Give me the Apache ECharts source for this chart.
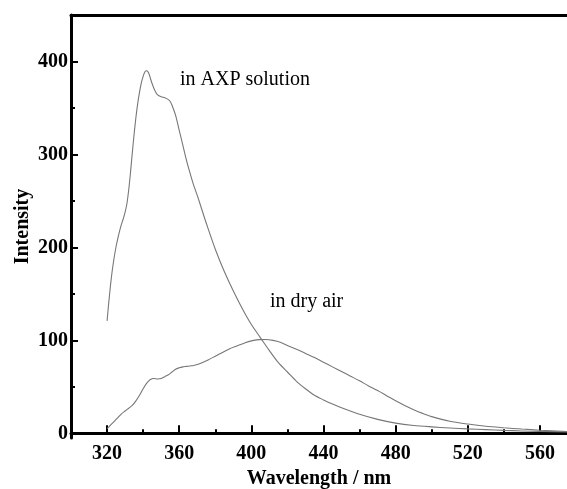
<!DOCTYPE html>
<html>
<head>
<meta charset="utf-8">
<script src="https://cdn.jsdelivr.net/npm/echarts@6/dist/echarts.min.js"></script>
<style>
html,body{margin:0;padding:0;background:#fff;}
#chart{width:567px;height:489px;}
</style>
</head>
<body>
<div id="chart"></div>
<script>
// Wavelength (nm) and intensity for "in AXP solution"
var axpWavelength = [320, 321, 322, 323, 324, 325, 326, 327, 328, 329, 330, 331, 332, 333, 334, 335, 336, 337, 338, 339, 340, 341, 342, 343, 344, 345, 346, 347, 348, 350, 352, 354, 355, 356, 358, 360, 362, 364, 366, 368, 370, 372, 375, 380, 385, 390, 395, 400, 405, 410, 415, 420, 425, 430, 435, 440, 445, 450, 460, 470, 480, 490, 500, 510, 520, 530, 540, 550, 560, 575];
var axpIntensity  = [121, 142, 161, 177, 190, 201, 210, 218, 225, 231, 238, 247, 262, 281, 302, 322, 340, 355, 367, 377, 384, 389, 390, 388, 382, 376, 371, 367, 364, 362, 361, 359, 357, 353, 342, 326, 310, 294, 280, 267, 256, 244, 226, 198, 174, 153, 134, 117, 103, 89, 76, 66, 56, 48, 41, 36, 31.5, 27.5, 20.5, 15, 11, 8.5, 7, 5.8, 4.8, 4, 3.2, 2.6, 2.1, 1.5];

// Wavelength (nm) and intensity for "in dry air"
var airWavelength = [320, 322, 324, 326, 328, 330, 332, 334, 336, 338, 340, 342, 344, 346, 348, 350, 352, 354, 356, 358, 360, 362, 364, 366, 368, 370, 372, 376, 380, 384, 388, 392, 396, 400, 404, 408, 412, 416, 420, 425, 430, 435, 440, 445, 450, 455, 460, 465, 470, 475, 480, 485, 490, 495, 500, 510, 520, 530, 540, 550, 560, 575];
var airIntensity  = [5, 9, 13, 17, 21, 24, 27, 30, 35, 41, 48, 54, 58, 59, 58.5, 59, 61, 63, 66, 69, 70.5, 71.5, 72, 72.5, 73, 74, 75.5, 79, 83, 87, 91, 94, 97, 99.5, 100.8, 101, 100, 98, 94.5, 90.5, 86, 81.5, 76.5, 71.5, 66.5, 61.5, 56.5, 51, 46, 40.5, 35, 30, 25.5, 21.5, 18, 13, 10, 7.6, 6, 4.6, 3.4, 2];

// Tick labels
var xLabels = [320, 360, 400, 440, 480, 520, 560];
var xMinorTicks = [340, 380, 420, 460, 500, 540];
var yLabels = [0, 100, 200, 300, 400];
var yMinorTicks = [50, 150, 250, 350];

// Annotations: [text, wavelength, intensity]
var annotations = [
  ['in AXP solution', 360.4, 380],
  ['in dry air', 410.3, 142]
];

function pairs(xs, ys){ return xs.map(function(x,i){ return [x, ys[i]]; }); }

var FONT = '"Liberation Serif", "Times New Roman", serif';
var chart = echarts.init(document.getElementById('chart'), null, {renderer:'canvas'});
var XMIN = 300, XMAX = 575, YMIN = -5, YMAX = 450;
var axisLine = {show:true, lineStyle:{color:'#000', width:3}};

chart.setOption({
  animation:false,
  backgroundColor:'#fff',
  grid:{left:71, top:15, right:0, bottom:51, containLabel:false, outerBoundsMode:'none'},
  xAxis:[
    {type:'value', position:'bottom', min:XMIN, max:XMAX,
     axisLine:axisLine,
     axisTick:{show:true, inside:true, length:8, lineStyle:{color:'#000', width:2}, customValues:xLabels},
     axisLabel:{show:true, customValues:xLabels, color:'#000', fontFamily:FONT, fontWeight:'bold', fontSize:20, margin:6},
     splitLine:{show:false},
     name:'Wavelength / nm', nameLocation:'middle', nameGap:30,
     nameTextStyle:{color:'#000', fontFamily:FONT, fontWeight:'bold', fontSize:20}},
    {type:'value', position:'bottom', min:XMIN, max:XMAX,
     axisLine:{show:false},
     axisTick:{show:true, inside:true, length:4, lineStyle:{color:'#000', width:2}, customValues:xMinorTicks},
     axisLabel:{show:false}, splitLine:{show:false}},
    {type:'value', position:'top', min:XMIN, max:XMAX,
     axisLine:axisLine, axisTick:{show:false}, axisLabel:{show:false}, splitLine:{show:false}}
  ],
  yAxis:[
    {type:'value', position:'left', min:YMIN, max:YMAX,
     axisLine:axisLine,
     axisTick:{show:true, inside:true, length:7, lineStyle:{color:'#000', width:2}, customValues:yLabels},
     axisLabel:{show:true, customValues:yLabels, color:'#000', fontFamily:FONT, fontWeight:'bold', fontSize:20, margin:3},
     splitLine:{show:false},
     name:'Intensity', nameLocation:'middle', nameGap:38, nameMoveOverlap:false,
     nameTextStyle:{color:'#000', fontFamily:FONT, fontWeight:'bold', fontSize:20}},
    {type:'value', position:'left', min:YMIN, max:YMAX,
     axisLine:{show:false},
     axisTick:{show:true, inside:true, length:4, lineStyle:{color:'#000', width:2}, customValues:yMinorTicks},
     axisLabel:{show:false}, splitLine:{show:false}}
  ],
  series:[
    {type:'line', name:'in AXP solution', data:pairs(axpWavelength, axpIntensity), xAxisIndex:0, yAxisIndex:0,
     smooth:0.3, showSymbol:false, lineStyle:{color:'#777', width:1.1}},
    {type:'line', name:'in dry air', data:pairs(airWavelength, airIntensity), xAxisIndex:0, yAxisIndex:0,
     smooth:0.3, showSymbol:false, lineStyle:{color:'#777', width:1.1}}
  ]
});

var gfx = annotations.map(function(a){
  var p = chart.convertToPixel({xAxisIndex:0, yAxisIndex:0}, [a[1], a[2]]);
  return {type:'text', x:p[0], y:p[1],
    style:{text:a[0], fill:'#000', font:'20px ' + FONT, textAlign:'left', textVerticalAlign:'middle'}};
});
chart.setOption({graphic:gfx});
</script>
</body>
</html>
